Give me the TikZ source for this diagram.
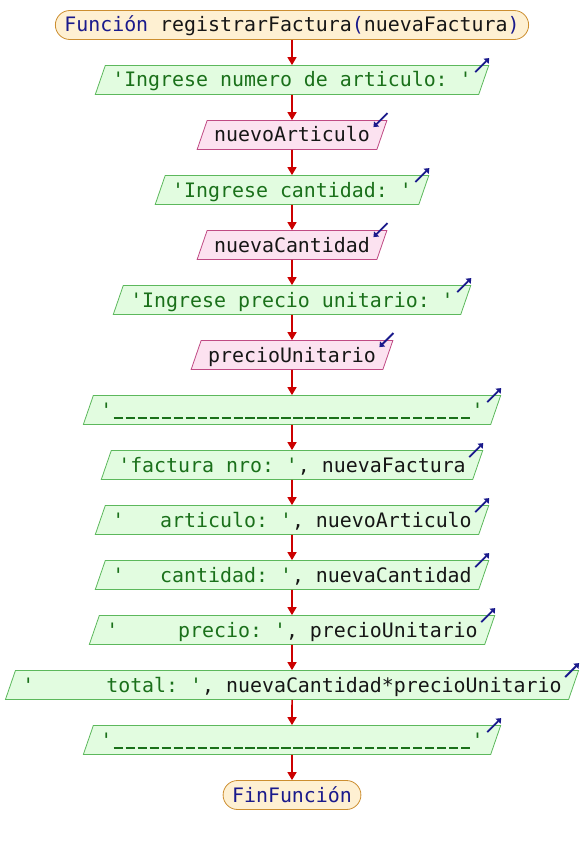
\documentclass[tikz,border=0pt]{standalone}
\usepackage{fontspec}
\setmonofont{DejaVu Sans Mono}
\usetikzlibrary{shapes.geometric,arrows.meta,calc}

\definecolor{strgreen}{HTML}{1A701A}
\definecolor{kwnavy}{HTML}{1A1A8C}
\definecolor{vartext}{HTML}{161616}
\definecolor{outfill}{HTML}{E2FCE0}
\definecolor{outline}{HTML}{5CB85C}
\definecolor{infill}{HTML}{FCE2F0}
\definecolor{inline}{HTML}{C04A84}
\definecolor{termfill}{HTML}{FEF0D2}
\definecolor{termline}{HTML}{CC8E30}
\definecolor{flowred}{HTML}{CC0000}

\newcommand{\str}[1]{\textcolor{strgreen}{#1}}
\newcommand{\kw}[1]{\textcolor{kwnavy}{#1}}
% guion bajo con separacion, como en el original
\newcommand{\raya}{\makebox[0.602em][c]{\rule[-0.1em]{0.46em}{0.1em}}}
\newcommand{\lineaRayas}{'\foreach \i in {1,...,30}{\raya}'}

\begin{document}
\begin{tikzpicture}[x=1pt,y=1pt,
  every node/.style={font=\ttfamily\fontsize{19.9}{24}\selectfont, text=vartext,
    inner ysep=0pt, text height=21.5pt, text depth=7.5pt},
  paso/.style={trapezium, trapezium left angle=71, trapezium right angle=109,
    inner xsep=7pt, line width=0.8pt},
  salida/.style={paso, draw=outline, fill=outfill},
  entrada/.style={paso, draw=inline, fill=infill},
  terminal/.style={rectangle, rounded corners=14.5pt, inner xsep=9pt,
    draw=termline, fill=termfill, line width=0.8pt},
  flecha/.style={-{Triangle[width=9pt,length=8pt]}, flowred, line width=1.6pt},
  icono/.style={-{Triangle[length=4.5pt,width=7pt]}, kwnavy, line width=1.8pt}]
  \useasboundingbox (0,0) rectangle (584,-845);
  % diagrama de flujo de registrarFactura
  \node[terminal] (inicio) at (292,-25) {\kw{Función} registrarFactura\kw{(}nuevaFactura\kw{)}};
  \node[salida] (msgArt) at (292,-80) {\str{'Ingrese numero de articulo: '}};
  \node[entrada] (leeArt) at (292,-135) {nuevoArticulo};
  \node[salida] (msgCant) at (292,-190) {\str{'Ingrese cantidad: '}};
  \node[entrada] (leeCant) at (292,-245) {nuevaCantidad};
  \node[salida] (msgPrecio) at (292,-300) {\str{'Ingrese precio unitario: '}};
  \node[entrada] (leePrecio) at (292,-355) {precioUnitario};
  \node[salida] (linea1) at (292,-410) {\str{\lineaRayas}};
  \node[salida] (outFactura) at (292,-465) {\str{'factura nro: '}, nuevaFactura};
  \node[salida] (outArt) at (292,-520) {\str{'\ \ \ articulo: '}, nuevoArticulo};
  \node[salida] (outCant) at (292,-575) {\str{'\ \ \ cantidad: '}, nuevaCantidad};
  \node[salida] (outPrecio) at (292,-630) {\str{'\ \ \ \ \ precio: '}, precioUnitario};
  \node[salida] (outTotal) at (292,-685) {\str{'\ \ \ \ \ \ total: '}, nuevaCantidad*precioUnitario};
  \node[salida] (linea2) at (292,-740) {\str{\lineaRayas}};
  \node[terminal] (fin) at (292,-795) {\kw{FinFunción}};
  \draw[flecha] (inicio) -- (msgArt);
  \draw[flecha] (msgArt) -- (leeArt);
  \draw[flecha] (leeArt) -- (msgCant);
  \draw[flecha] (msgCant) -- (leeCant);
  \draw[flecha] (leeCant) -- (msgPrecio);
  \draw[flecha] (msgPrecio) -- (leePrecio);
  \draw[flecha] (leePrecio) -- (linea1);
  \draw[flecha] (linea1) -- (outFactura);
  \draw[flecha] (outFactura) -- (outArt);
  \draw[flecha] (outArt) -- (outCant);
  \draw[flecha] (outCant) -- (outPrecio);
  \draw[flecha] (outPrecio) -- (outTotal);
  \draw[flecha] (outTotal) -- (linea2);
  \draw[flecha] (linea2) -- (fin);
  % iconos de escritura y lectura
  \foreach \n in {msgArt,msgCant,msgPrecio,linea1,outFactura,outArt,outCant,outPrecio,outTotal,linea2}
    \draw[icono] ($(\n.top right corner)+(-14,-7)$) -- ($(\n.top right corner)+(0,7)$);
  \foreach \n in {leeArt,leeCant,leePrecio}
    \draw[icono] ($(\n.top right corner)+(0,7)$) -- ($(\n.top right corner)+(-14,-7)$);
\end{tikzpicture}
\end{document}
